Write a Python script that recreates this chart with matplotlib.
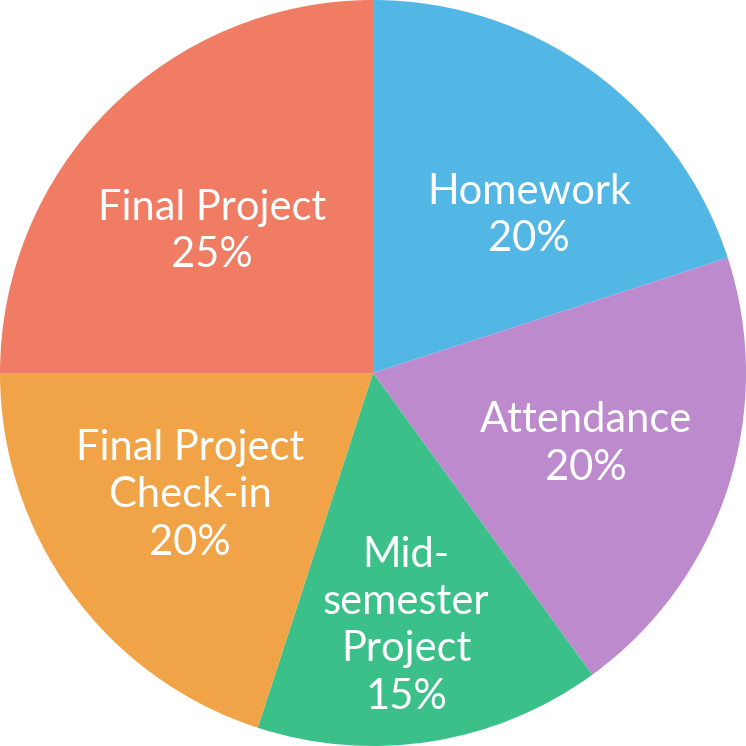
import matplotlib
matplotlib.use("Agg")
import matplotlib.pyplot as plt

categories = ["Homework", "Attendance", "Mid-\nsemester\nProject", "Final Project\nCheck-in", "Final Project"]
shares = [20, 20, 15, 20, 25]
colors = ["#52B7E5", "#BC8ACD", "#3CC08A", "#F0A447", "#F07C63"]

labels = [f"{c}\n{s}%" for c, s in zip(categories, shares)]

fig = plt.figure(figsize=(7.46, 7.46), dpi=100)
ax = fig.add_axes([0, 0, 1, 1])

wedges, texts = ax.pie(shares, colors=colors, startangle=90, counterclock=False,
                       labels=labels, labeldistance=0.6, radius=1,
                       textprops=dict(color="white", fontsize=30, family="Lato",
                                      fontweight="normal", linespacing=1.3))

# nudge labels to where the reference puts them
nudge = [(0.066, -0.063), (0.0, -0.005), (-0.005, -0.085), (-0.005, 0.025), (-0.008, -0.045)]
for t, (dx, dy) in zip(texts, nudge):
    x, y = t.get_position()
    t.set_position((x + dx, y + dy))
    t.set_ha("center")
    t.set_va("center")
    t.set_multialignment("center")

ax.set_xlim(-1, 1)
ax.set_ylim(-1, 1)
ax.set_aspect("equal")
ax.axis("off")

fig.savefig("out.png", dpi=100)
